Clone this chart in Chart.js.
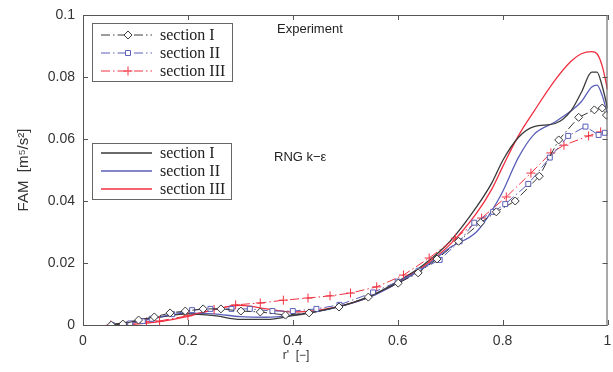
<!DOCTYPE html>
<html>
<head>
<meta charset="utf-8">
<script src="https://cdn.jsdelivr.net/npm/chart.js@4/dist/chart.umd.min.js"></script>
<style>
  html, body { margin: 0; padding: 0; background: #fff; }
  #wrap { width: 613px; height: 372px; }
</style>
</head>
<body>
<div id="wrap"><canvas id="myChart" width="613" height="372"></canvas></div>
<script>
// experiment, section I (diamonds)
var expIx = [0.054,0.076,0.106,0.136,0.166,0.195,0.229,0.263,0.301,0.338,0.386,0.431,0.488,0.544,0.601,0.639,0.675,0.716,0.758,0.788,0.824,0.87,0.907,0.945,0.975,0.99,0.998];
var expIy = [0,0.0003,0.0016,0.0026,0.0039,0.0045,0.0052,0.0052,0.0045,0.0042,0.0032,0.0039,0.0058,0.009,0.0135,0.0168,0.0213,0.027,0.033,0.0365,0.040,0.048,0.0597,0.067,0.0694,0.070,0.0677];
// experiment, section II (squares)
var expIIx = [0.055,0.09,0.114,0.131,0.17,0.208,0.243,0.283,0.318,0.361,0.4,0.445,0.489,0.553,0.6,0.64,0.68,0.718,0.746,0.782,0.805,0.849,0.89,0.925,0.958,0.983,0.995];
var expIIy = [0,0.0005,0.0013,0.002,0.0035,0.0048,0.0052,0.0052,0.0052,0.0045,0.0045,0.0052,0.0065,0.0105,0.014,0.0175,0.021,0.027,0.033,0.0365,0.039,0.0455,0.054,0.061,0.064,0.0613,0.062];
// experiment, section III (crosses)
var expIIIx = [0.053,0.121,0.146,0.2,0.25,0.291,0.338,0.382,0.429,0.471,0.51,0.56,0.611,0.66,0.71,0.76,0.807,0.854,0.892,0.917,0.964,0.987];
var expIIIy = [0,0.001,0.0013,0.003,0.005,0.0065,0.0071,0.008,0.0087,0.0094,0.0103,0.0123,0.0161,0.0216,0.028,0.0345,0.0413,0.049,0.0555,0.058,0.061,0.0623];

// RNG k-eps simulation
var simX    = [0.05,0.1,0.15,0.2,0.25,0.3,0.35,0.4,0.45,0.5,0.55,0.6,0.65,0.7,0.75,0.78,0.8,0.83,0.86,0.9,0.93,0.95,0.97,0.98,0.99,1.0];
var simIy   = [0,0.0013,0.0027,0.0036,0.003,0.0018,0.0018,0.003,0.0045,0.0065,0.0095,0.014,0.0195,0.027,0.038,0.046,0.053,0.0605,0.064,0.065,0.069,0.075,0.0816,0.0816,0.077,0.070];
var simIIy  = [0,0.0012,0.0026,0.0038,0.0036,0.0027,0.0025,0.0032,0.0045,0.0064,0.0092,0.0135,0.0185,0.025,0.030,0.037,0.043,0.054,0.0615,0.0655,0.069,0.072,0.0768,0.0774,0.074,0.068];
var simIIIy = [0,0.0003,0.0012,0.0028,0.005,0.0063,0.0052,0.0042,0.0048,0.0065,0.0093,0.0137,0.019,0.026,0.036,0.044,0.051,0.061,0.069,0.079,0.085,0.0875,0.0882,0.0875,0.0835,0.076];

var seriesNames = ['section I', 'section II', 'section III'];
var xTicks = [0, 0.2, 0.4, 0.6, 0.8, 1];
var yTicks = [0, 0.02, 0.04, 0.06, 0.08, 0.1];

function pts(xs, ys) {
    return xs.map(function(x, i) { return {x: x, y: ys[i]}; });
}

var cBlack = '#3a3a3a', cBlue = '#5a5fb8', cRed = '#f03040';
var dashDot = [9, 3, 1.5, 3];

var expSets = [
    {data: pts(expIx, expIy), borderColor: cBlack, pointStyle: 'rectRot', pointRadius: 4},
    {data: pts(expIIx, expIIy), borderColor: cBlue, pointStyle: 'rect', pointRadius: 3.5},
    {data: pts(expIIIx, expIIIy), borderColor: cRed, pointStyle: 'cross', pointRadius: 4.5}
].map(function(d, i) {
    d.label = seriesNames[i] + ' (exp)';
    d.borderWidth = 1;
    d.borderDash = dashDot;
    d.pointBackgroundColor = '#fff';
    d.pointBorderColor = d.borderColor;
    d.pointBorderWidth = 1;
    d.tension = 0;
    return d;
});

var simSets = [
    {data: pts(simX, simIy), borderColor: cBlack},
    {data: pts(simX, simIIy), borderColor: cBlue},
    {data: pts(simX, simIIIy), borderColor: cRed}
].map(function(d, i) {
    d.label = seriesNames[i];
    d.borderWidth = 1.3;
    d.pointRadius = 0;
    d.cubicInterpolationMode = 'monotone';
    return d;
});

// box, inward ticks, titles and the two legends
var decor = {
    id: 'decor',
    afterDraw: function(chart) {
        var ctx = chart.ctx, a = chart.chartArea;
        var xs = chart.scales.x, ys = chart.scales.y;
        ctx.save();
        ctx.strokeStyle = '#555';
        ctx.lineWidth = 1;
        ctx.strokeRect(a.left + 0.5, a.top + 0.5, a.right - a.left - 1, a.bottom - a.top);
        ctx.beginPath();
        xTicks.forEach(function(v) {
            var px = Math.round(xs.getPixelForValue(v)) + 0.5;
            ctx.moveTo(px, a.bottom); ctx.lineTo(px, a.bottom - 5);
            ctx.moveTo(px, a.top); ctx.lineTo(px, a.top + 5);
        });
        yTicks.forEach(function(v) {
            var py = Math.round(ys.getPixelForValue(v)) + 0.5;
            ctx.moveTo(a.left, py); ctx.lineTo(a.left + 5, py);
            ctx.moveTo(a.right, py); ctx.lineTo(a.right - 5, py);
        });
        ctx.stroke();

        // axis titles
        ctx.fillStyle = '#333';
        ctx.font = '15px "Liberation Sans", Arial, sans-serif';
        ctx.textAlign = 'center';
        ctx.textBaseline = 'middle';
        ctx.save();
        ctx.translate(24, (a.top + a.bottom) / 2);
        ctx.rotate(-Math.PI / 2);
        ctx.fillText('FAM  [m\u2075/s\u00B2]', 0, 0);
        ctx.restore();
        ctx.font = '12px "Liberation Sans", Arial, sans-serif';
        ctx.fillText("r'  [\u2212]", 296, 356);

        ctx.textAlign = 'left';
        ctx.font = '13px "Liberation Sans", Arial, sans-serif';
        ctx.fillStyle = '#222';
        ctx.fillText('Experiment', 277, 29);
        ctx.fillText('RNG k\u2212\u03B5', 274, 157);

        drawLegend(ctx, expSets, 92, 23, 140, 58, 35, true);
        drawLegend(ctx, simSets, 92, 143, 139, 56, 153, false);
        ctx.restore();
    }
};

function drawLegend(ctx, sets, x, y, w, h, firstRow, withMarker) {
    ctx.save();
    ctx.fillStyle = '#fff';
    ctx.fillRect(x, y, w, h);
    ctx.strokeStyle = '#666';
    ctx.lineWidth = 1;
    ctx.strokeRect(x + 0.5, y + 0.5, w, h);
    sets.forEach(function(d, i) {
        var ry = firstRow + i * 18;
        ctx.strokeStyle = d.borderColor;
        ctx.lineWidth = d.borderWidth;
        ctx.setLineDash(d.borderDash || []);
        ctx.beginPath();
        ctx.moveTo(x + 9, ry); ctx.lineTo(x + 60, ry);
        ctx.stroke();
        ctx.setLineDash([]);
        if (withMarker) {
            ctx.fillStyle = '#fff';
            ctx.lineWidth = 1;
            Chart.helpers.drawPoint(ctx, {pointStyle: d.pointStyle, radius: d.pointRadius, borderWidth: 1}, x + 36, ry);
        }
        ctx.fillStyle = '#222';
        ctx.font = '16px "Liberation Serif", "Times New Roman", serif';
        ctx.textAlign = 'left';
        ctx.textBaseline = 'middle';
        ctx.fillText(seriesNames[i], x + 68, ry + 1);
    });
    ctx.restore();
}

var ctx = document.getElementById('myChart').getContext('2d');
var myChart = new Chart(ctx, {
    type: 'line',
    data: { datasets: expSets.concat(simSets) },
    options: {
        responsive: false,
        animation: false,
        layout: { padding: { top: 15, right: 1, left: 0, bottom: 0 } },
        plugins: {
            legend: { display: false },
            tooltip: { enabled: false }
        },
        scales: {
            x: {
                type: 'linear',
                min: 0, max: 1,
                afterFit: function(s) { s.height = 47; s.paddingLeft = 0; s.paddingRight = 0; },
                afterBuildTicks: function(s) { s.ticks = xTicks.map(function(v) { return {value: v}; }); },
                grid: { display: false, drawTicks: false },
                border: { display: false },
                ticks: {
                    padding: 8,
                    color: '#333',
                    font: { family: '"Liberation Sans", Arial, sans-serif', size: 14 },
                    callback: function(v) { return String(parseFloat(v.toFixed(2))); }
                }
            },
            y: {
                type: 'linear',
                min: 0, max: 0.1,
                afterFit: function(s) { s.width = 83; s.paddingTop = 0; s.paddingBottom = 0; },
                afterBuildTicks: function(s) { s.ticks = yTicks.map(function(v) { return {value: v}; }); },
                grid: { display: false, drawTicks: false },
                border: { display: false },
                ticks: {
                    padding: 8,
                    color: '#333',
                    font: { family: '"Liberation Sans", Arial, sans-serif', size: 14 },
                    callback: function(v) { return String(parseFloat(v.toFixed(2))); }
                }
            }
        }
    },
    plugins: [decor]
});
</script>
</body>
</html>
